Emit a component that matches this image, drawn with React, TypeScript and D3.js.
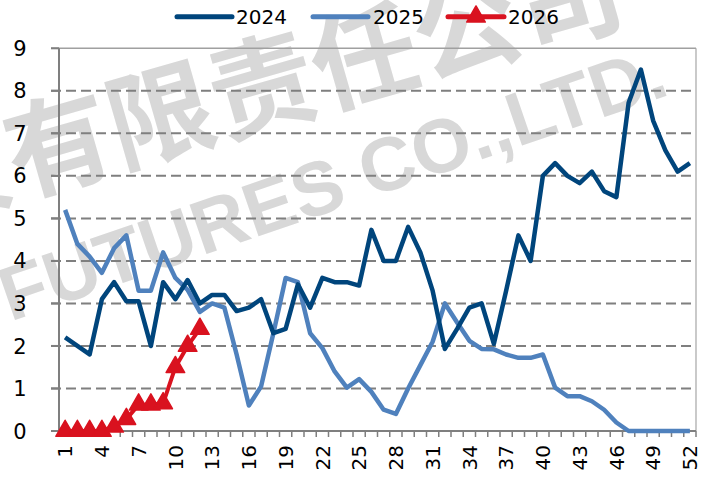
import React from "react";
import * as d3 from "d3";

const weeks = [
  1, 2, 3, 4, 5, 6, 7, 8, 9, 10, 11, 12, 13, 14, 15, 16, 17, 18, 19, 20, 21, 22, 23, 24, 25, 26,
  27, 28, 29, 30, 31, 32, 33, 34, 35, 36, 37, 38, 39, 40, 41, 42, 43, 44, 45, 46, 47, 48, 49, 50, 51, 52,
];

const s2024 = [
  2.2, 2.0, 1.8, 3.1, 3.5, 3.05, 3.05, 2.0, 3.5, 3.1, 3.55, 3.0, 3.2, 3.2, 2.82, 2.9, 3.1, 2.3, 2.4,
  3.45, 2.9, 3.6, 3.5, 3.5, 3.42, 4.73, 4.0, 4.0, 4.8, 4.2, 3.3, 1.93, 2.4, 2.9, 3.0, 2.05, 3.3, 4.6,
  4.0, 6.0, 6.3, 6.0, 5.83, 6.1, 5.64, 5.5, 7.72, 8.5, 7.3, 6.6, 6.1, 6.3,
];

const s2025 = [
  5.2, 4.4, 4.1, 3.72, 4.3, 4.6, 3.3, 3.3, 4.2, 3.6, 3.32, 2.8, 3.0, 2.9, 1.8, 0.6, 1.05, 2.3, 3.6,
  3.5, 2.3, 1.95, 1.4, 1.02, 1.22, 0.92, 0.5, 0.4, 1.0, 1.55, 2.1, 3.0, 2.55, 2.12, 1.93, 1.92, 1.8,
  1.72, 1.72, 1.8, 1.02, 0.82, 0.82, 0.7, 0.5, 0.2, 0, 0, 0, 0, 0, 0,
];

const s2026 = [0, 0, 0, 0, 0.1, 0.28, 0.62, 0.62, 0.65, 1.5, 2.0, 2.4];

const yTicks = [0, 1, 2, 3, 4, 5, 6, 7, 8, 9];
const xTickLabels = [1, 4, 7, 10, 13, 16, 19, 22, 25, 28, 31, 34, 37, 40, 43, 46, 49, 52];
const seriesNames = ["2024", "2025", "2026"];

const W = 706;
const H = 477;
const C24 = "#00457c";
const C25 = "#4f81bd";
const C26 = "#d9121f";
const FONT = "'DejaVu Sans', Verdana, sans-serif";

export default function App() {
  const x = d3
    .scaleBand<string>()
    .domain(weeks.map(String))
    .range([59, 696])
    .paddingInner(0)
    .paddingOuter(0);
  const y = d3.scaleLinear().domain([0, 9]).range([431, 48.3]);
  const cx = (w: number) => (x(String(w)) as number) + x.bandwidth() / 2;

  const line = d3
    .line<number>()
    .x((_, i) => cx(weeks[i]))
    .y((d) => y(d));

  const tri = d3.symbol().type(d3.symbolTriangle).size(150)();

  const boundaries = weeks.map((w) => x(String(w)) as number).concat([696]);

  return (
    <svg
      width={W}
      height={H}
      viewBox={`0 0 ${W} ${H}`}
      style={{ position: "absolute", left: 0, top: 0, display: "block", background: "#fff" }}
    >
      <rect x={0} y={0} width={W} height={H} fill="#fff" />
      {/* watermark */}
      <g fill="#c6c6c6" opacity={0.68}>
        <text
          transform="translate(58,143) rotate(-16)"
          x={-1.5 * 106}
          dy="0.38em"
          fontSize={106}
          fontWeight={700}
          fontFamily="'Noto Sans CJK SC', sans-serif"
        >
          货有限责任公司
        </text>
        <text
          transform="translate(332,182) rotate(-19)"
          textAnchor="middle"
          dy="0.36em"
          fontSize={76}
          fontWeight={700}
          fontFamily="'Liberation Sans', Arial, sans-serif"
        >
          FUTURES CO.,LTD.
        </text>
      </g>

      {/* gridlines */}
      {yTicks
        .filter((v) => v > 0 && v < 9)
        .map((v) => (
          <line
            key={"g" + v}
            x1={51}
            x2={696}
            y1={y(v)}
            y2={y(v)}
            stroke="#7f7f7f"
            strokeWidth={2}
            strokeDasharray="10,5"
          />
        ))}
      <line x1={51} x2={696} y1={y(9)} y2={y(9)} stroke="#a0a0a0" strokeWidth={1.5} />
      <line x1={696} x2={696} y1={y(9)} y2={y(0)} stroke="#a6a6a6" strokeWidth={1.2} />

      {/* y ticks */}
      {yTicks.map((v) => (
        <line key={"yt" + v} x1={51} x2={59} y1={y(v)} y2={y(v)} stroke="#7f7f7f" strokeWidth={2} />
      ))}
      {/* axes */}
      <line x1={59} x2={59} y1={y(9)} y2={y(0)} stroke="#7f7f7f" strokeWidth={2} />
      <line x1={51} x2={696} y1={y(0)} y2={y(0)} stroke="#7f7f7f" strokeWidth={2} />
      {boundaries.map((b, i) => (
        <line key={"xt" + i} x1={b} x2={b} y1={y(0)} y2={y(0) + 6} stroke="#7f7f7f" strokeWidth={1.5} />
      ))}

      {/* y labels */}
      {yTicks.map((v) => (
        <text
          key={"yl" + v}
          x={26.5}
          y={y(v)}
          dy="0.36em"
          textAnchor="end"
          fontSize={21}
          fontFamily={FONT}
          fill="#000"
        >
          {v}
        </text>
      ))}
      {/* x labels */}
      {xTickLabels.map((w) => (
        <text
          key={"xl" + w}
          transform={`translate(${cx(w)},${y(0) + 14}) rotate(-90)`}
          dy="0.36em"
          textAnchor="end"
          fontSize={20}
          fontFamily={FONT}
          fill="#000"
        >
          {w}
        </text>
      ))}

      {/* series */}
      <path d={line(s2025) || ""} fill="none" stroke={C25} strokeWidth={4.5} strokeLinejoin="round" />
      <path d={line(s2024) || ""} fill="none" stroke={C24} strokeWidth={4.5} strokeLinejoin="round" />
      <path d={line(s2026) || ""} fill="none" stroke={C26} strokeWidth={4} strokeLinejoin="round" />
      {s2026.map((v, i) => (
        <path key={"m" + i} d={tri || ""} transform={`translate(${cx(weeks[i])},${y(v)})`} fill={C26} stroke={C26} strokeWidth={1.5} strokeLinejoin="round" />
      ))}

      {/* legend */}
      <g fontFamily={FONT} fontSize={20} fill="#000">
        <line x1={177} x2={232} y1={16.7} y2={16.7} stroke={C24} strokeWidth={5} strokeLinecap="round" />
        <text x={236} y={24}>{seriesNames[0]}</text>
        <line x1={313} x2={368} y1={16.7} y2={16.7} stroke={C25} strokeWidth={5} strokeLinecap="round" />
        <text x={373} y={24}>{seriesNames[1]}</text>
        <line x1={448} x2={504} y1={16.7} y2={16.7} stroke={C26} strokeWidth={5} strokeLinecap="round" />
        <path d={tri || ""} transform="translate(476,16.7)" fill={C26} stroke={C26} strokeWidth={1.5} strokeLinejoin="round" />
        <text x={508} y={24}>{seriesNames[2]}</text>
      </g>
    </svg>
  );
}
